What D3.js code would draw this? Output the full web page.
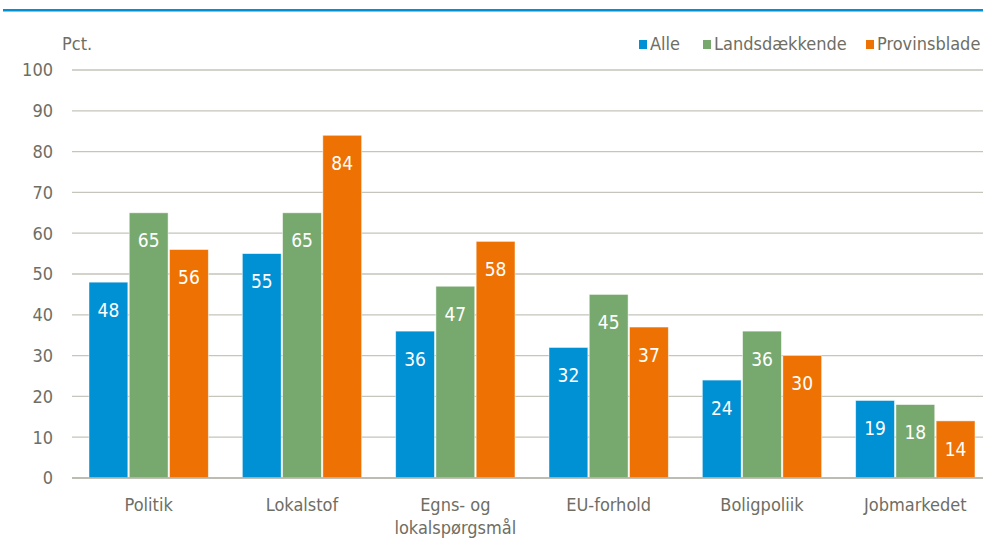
<!DOCTYPE html>
<html><head><meta charset="utf-8">
<script src="https://cdn.jsdelivr.net/npm/d3@7/dist/d3.min.js"></script>
<style>
body{margin:0;background:#fff}
text{font-family:"DejaVu Sans Condensed","DejaVu Sans",sans-serif;font-stretch:condensed}
</style></head>
<body><svg id="c" width="983" height="542"></svg>
<script>
const categories = [["Politik"],["Lokalstof"],["Egns- og","lokalspørgsmål"],["EU-forhold"],["Boligpoliik"],["Jobmarkedet"]];
const seriesNames = ["Alle","Landsdækkende","Provinsblade"];
const alle = [48,55,36,32,24,19];
const landsdaekkende = [65,65,47,45,36,18];
const provinsblade = [56,84,58,37,30,14];
const yTicks = [0,10,20,30,40,50,60,70,80,90,100];
const colors = ["#0090d4","#77a96f","#ee7203"];
const seriesValues = [alle, landsdaekkende, provinsblade];

const svg = d3.select("#c");
const textColor = "#6e6e64";
const fs = 18;
svg.append("rect").attr("x",3).attr("y",9).attr("width",980).attr("height",2.5).attr("fill","#0090d4");

const x0 = d3.scaleBand().domain(d3.range(categories.length)).range([72,992]).paddingInner(0).paddingOuter(0);
const x1 = d3.scaleBand().domain(d3.range(3)).range([17, x0.bandwidth()-17]).paddingInner(0.035);
const y = d3.scaleLinear().domain([0,100]).range([478,70]);

// grid
const g = svg.append("g");
g.selectAll("line.grid").data(yTicks).join("line")
  .attr("x1",72).attr("x2",983).attr("y1",d=>y(d)).attr("y2",d=>y(d))
  .attr("stroke","#c5c5bb").attr("stroke-width",1.3);
g.selectAll("text.tick").data(yTicks).join("text")
  .attr("x",53).attr("y",d=>y(d)).attr("dy","0.35em").attr("text-anchor","end")
  .attr("font-size",fs).attr("fill",textColor).text(d=>d);

svg.append("text").attr("x",62).attr("y",44).attr("dy","0.35em").attr("font-size",fs).attr("fill",textColor).text("Pct.");

// bars
seriesValues.forEach((vals,si)=>{
  const gg = svg.append("g");
  gg.selectAll("rect").data(vals).join("rect")
    .attr("x",(d,i)=>x0(i)+x1(si)).attr("width",x1.bandwidth())
    .attr("y",d=>y(d)).attr("height",d=>y(0)-y(d))
    .attr("fill",colors[si]).attr("stroke","#ffffff").attr("stroke-opacity",0.6).attr("stroke-width",0.8);
  gg.selectAll("text").data(vals).join("text")
    .attr("x",(d,i)=>x0(i)+x1(si)+x1.bandwidth()/2).attr("y",d=>y(d)+28).attr("dy","0.35em")
    .attr("text-anchor","middle").attr("font-size",19).attr("fill","#fff").text(d=>d);
});
// baseline
svg.append("line").attr("x1",72).attr("x2",983).attr("y1",y(0)).attr("y2",y(0)).attr("stroke","#b5b5aa").attr("stroke-width",1.3);

// x labels
categories.forEach((lines,i)=>{
  const t = svg.append("text").attr("x",x0(i)+x0.bandwidth()/2).attr("y",505).attr("text-anchor","middle")
    .attr("font-size",fs).attr("fill",textColor);
  lines.forEach((l,j)=>t.append("tspan").attr("x",x0(i)+x0.bandwidth()/2).attr("y",505+j*23).attr("dy","0.35em").text(l));
});

// legend
const legX = [639,703,866];
seriesNames.forEach((n,i)=>{
  svg.append("rect").attr("x",legX[i]).attr("y",40).attr("width",8).attr("height",9).attr("fill",colors[i]);
  svg.append("text").attr("x",legX[i]+11).attr("y",44).attr("dy","0.35em").attr("font-size",fs).attr("fill",textColor).text(n);
});
</script></body></html>
